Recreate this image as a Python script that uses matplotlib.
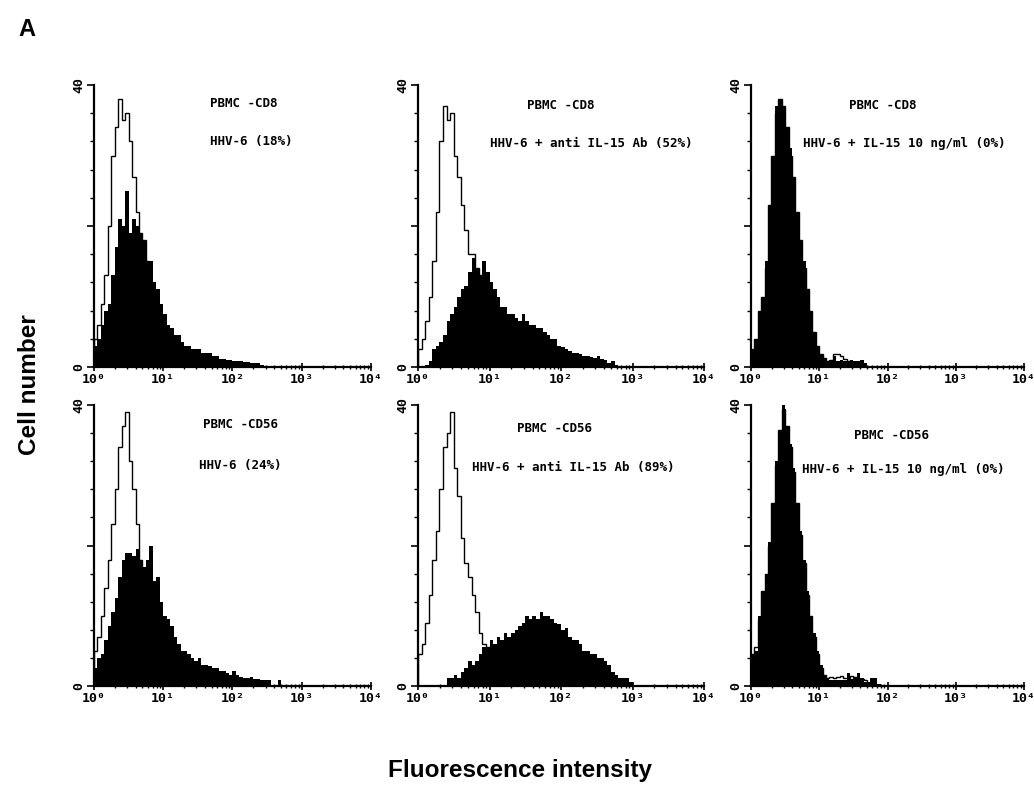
import numpy as np
import matplotlib
matplotlib.use("Agg")
import matplotlib.pyplot as plt
from matplotlib.ticker import FixedLocator, LogLocator, NullFormatter

# Canais em escala log: 20 por década, de 10^0 a 10^4
CANAIS_POR_DECADA = 20
bordas = np.logspace(0, 4, 4 * CANAIS_POR_DECADA + 1)

# Contagens por canal. Controle = contorno aberto, amostra = preenchido.
# Os canais que faltam no fim de cada lista são vazios (zero).
cd8_hhv6_controle = [4, 6, 9, 13, 20, 30, 34, 38, 35, 36, 32, 27, 22, 19, 18, 15]
cd8_hhv6_amostra = [3, 4, 6, 8, 9, 13, 17, 21, 20, 25, 19, 21, 20, 19, 18, 15, 15, 12, 11, 9,
                    7.5, 6, 5.5, 4.5, 4.5, 3.5, 3, 3, 2.5, 2.5, 2.5, 2, 2, 2, 1.5, 1.5, 1.2, 1.2,
                    1, 1, 0.8, 0.8, 0.8, 0.7, 0.7, 0.6, 0.6, 0.5, 0.3]

cd8_anti_controle = [2.5, 4, 6.5, 10, 15, 22, 32, 37, 35, 36, 30, 27, 23, 19.5, 16, 16, 14, 13]
cd8_anti_amostra = [0, 0, 0.3, 0.8, 2.5, 3, 3.5, 4.5, 6.5, 7.5, 8.5, 10, 11, 11.5, 13.5, 15.5,
                    14, 13, 15, 13.5, 12, 11, 10, 8.5, 8.5, 7.5, 7.5, 7, 6.5, 7.5, 6.5, 6, 6,
                    5.5, 5.5, 5, 4.5, 4, 4, 3, 2.8, 2.5, 2.2, 2, 2, 1.8, 1.6, 1.5, 1.4, 1.3,
                    1.5, 1.2, 1, 0.6, 0.8, 0.3]

cd8_il15_controle = [2.5, 4, 8, 10, 14, 23, 30, 36, 38, 37, 34, 30, 27, 22, 18, 14, 11, 8, 5, 3,
                     1.8, 1.3, 0.8, 1, 1.8, 1.8, 1.6, 1.2, 0.8, 0.6, 0.4]
cd8_il15_amostra = [2.5, 4, 8, 10, 15, 23, 30, 37, 38, 37, 34, 31, 27, 22, 18, 15, 11, 8, 5, 3,
                    1.8, 1.3, 0.8, 0.8, 1.5, 0.8, 1, 0.8, 0.8, 1, 0.8, 0.8, 1, 0.5]

cd56_hhv6_controle = [5, 7, 10, 14, 18, 23, 28, 34, 37, 39, 32, 28, 23, 18]
cd56_hhv6_amostra = [2.5, 4, 4.5, 6.5, 8.5, 10.5, 12.5, 15.5, 18, 19, 19, 18.5, 19.5, 18, 17,
                     18, 20, 15, 15.5, 12, 10, 9.5, 8.5, 7, 6, 5, 5, 4.5, 4, 3.5, 4, 3, 3, 2.8,
                     2.5, 2.5, 2.2, 2.2, 1.8, 1.6, 2.2, 1.6, 1.3, 1.2, 1.1, 1.3, 1, 1, 0.9, 0.9,
                     0.8, 0.2, 0.1, 0.8]

cd56_anti_controle = [4.5, 6, 9, 13, 18, 22, 28, 34, 36, 39, 31, 27, 21, 17.5, 15.5, 13, 10.5,
                      7.5, 6, 5.5]
cd56_anti_amostra = [0, 0, 0, 0, 0, 0, 0, 0, 1.2, 1.2, 1.5, 1.2, 2, 2.5, 3.5, 3, 3.5, 4.5, 5.5,
                     5.5, 6.5, 6, 7, 6.5, 7.5, 7, 7.5, 8, 8.5, 9, 10, 9.5, 10, 9.5, 10.5, 10, 10,
                     9.5, 9, 8.8, 8, 8.2, 7, 6.5, 6.5, 6, 5, 5, 4.5, 4.5, 4, 4, 3.5, 3, 2, 1.5,
                     1.2, 1.2, 1.2, 0.6]

cd56_il15_controle = [4.5, 5.5, 9.5, 13.5, 16, 20, 26, 31.5, 36.5, 39.5, 37, 34, 30.5, 26, 21.5,
                      17.5, 13, 10, 7, 4.5, 2.5, 1.6, 1.2, 1.3, 1.2, 1.3, 1.4, 1.2, 1.2, 1.4,
                      1.3, 1.2, 1, 0.8, 0.4]
cd56_il15_amostra = [4.5, 5, 10, 13.5, 16, 20.5, 26, 32, 36.5, 40, 37, 34.5, 31, 26, 22, 18,
                     13.5, 10, 7.5, 5, 3, 1.5, 1, 0.8, 0.8, 0.8, 0.8, 0.8, 1.8, 1, 1.2, 1.8,
                     1.2, 0.5, 0.6, 1.2, 1.2, 0.3]

titulos = ["PBMC -CD8", "PBMC -CD56"]
condicoes_cd8 = ["HHV-6 (18%)", "HHV-6 + anti IL-15 Ab (52%)", "HHV-6 + IL-15 10 ng/ml (0%)"]
condicoes_cd56 = ["HHV-6 (24%)", "HHV-6 + anti IL-15 Ab (89%)", "HHV-6 + IL-15 10 ng/ml (0%)"]
rotulos_x = ["10\u2070", "10\u00b9", "10\u00b2", "10\u00b3", "10\u2074"]

FONTE_MONO = "DejaVu Sans Mono"
L, A = 1034, 798


def eixo_em_pixels(fig, x0, y0, x1, y1):
    """Cria um eixo a partir de coordenadas em pixels (origem no topo)"""
    return fig.add_axes([x0 / L, 1 - y1 / A, (x1 - x0) / L, (y1 - y0) / A])


def desenhar_painel(ax, controle, amostra, titulo, condicao, pos_titulo, pos_cond):
    cheio = np.pad(np.array(amostra, float), (0, len(bordas) - 1 - len(amostra)))
    ax.stairs(cheio, bordas, fill=True, color="black", linewidth=0)
    ax.stairs(controle, bordas[:len(controle) + 1], baseline=0, color="black", linewidth=1.0)

    ax.set_xscale("log")
    ax.set_xlim(1, 1e4)
    ax.set_ylim(0, 40)

    # Só eixos esquerdo e inferior
    for lado in ["top", "right"]:
        ax.spines[lado].set_visible(False)
    for lado in ["left", "bottom"]:
        ax.spines[lado].set_linewidth(1.6)

    ax.xaxis.set_major_locator(FixedLocator([1, 10, 100, 1000, 10000]))
    ax.set_xticklabels(rotulos_x)
    ax.xaxis.set_minor_locator(LogLocator(base=10, subs=np.arange(2, 10)))
    ax.xaxis.set_minor_formatter(NullFormatter())
    ax.tick_params(axis="x", which="major", direction="inout", length=6, width=1.2, pad=1)
    ax.tick_params(axis="x", which="minor", direction="inout", length=3, width=1)

    ax.yaxis.set_major_locator(FixedLocator([0, 20, 40]))
    ax.set_yticklabels(["0", "", "40"])
    ax.yaxis.set_minor_locator(FixedLocator(np.arange(0, 41, 4)))
    ax.tick_params(axis="y", which="major", direction="out", length=5, width=1.2,
                   labelrotation=90, pad=1)
    ax.tick_params(axis="y", which="minor", direction="out", length=3, width=1)

    for rot in ax.get_xticklabels() + ax.get_yticklabels():
        rot.set_fontfamily(FONTE_MONO)
        rot.set_fontweight("bold")
        rot.set_fontsize(9.5)
    for rot in ax.get_yticklabels():
        rot.set_verticalalignment("center")

    ax.text(pos_titulo[0], pos_titulo[1], titulo, transform=ax.transAxes, family=FONTE_MONO,
            fontsize=9, fontweight="bold", ha="left", va="center")
    ax.text(pos_cond[0], pos_cond[1], condicao, transform=ax.transAxes, family=FONTE_MONO,
            fontsize=9, fontweight="bold", ha="left", va="center")


fig = plt.figure(figsize=(L / 100, A / 100), dpi=100)

colunas = [(94, 371), (418, 704), (751, 1024)]
linhas = [(85, 367), (405, 686)]

dados = [
    [(cd8_hhv6_controle, cd8_hhv6_amostra), (cd8_anti_controle, cd8_anti_amostra),
     (cd8_il15_controle, cd8_il15_amostra)],
    [(cd56_hhv6_controle, cd56_hhv6_amostra), (cd56_anti_controle, cd56_anti_amostra),
     (cd56_il15_controle, cd56_il15_amostra)],
]
condicoes = [condicoes_cd8, condicoes_cd56]

# posições dos textos em fração do eixo
pos_titulos = [[(0.42, 0.933), (0.381, 0.926), (0.358, 0.926)],
               [(0.394, 0.929), (0.346, 0.918), (0.376, 0.893)]]
pos_conds = [[(0.42, 0.80), (0.252, 0.794), (0.192, 0.794)],
             [(0.38, 0.786), (0.189, 0.776), (0.188, 0.769)]]

for i, (y0, y1) in enumerate(linhas):
    for j, (x0, x1) in enumerate(colunas):
        ax = eixo_em_pixels(fig, x0, y0, x1, y1)
        controle, amostra = dados[i][j]
        desenhar_painel(ax, controle, amostra, titulos[i], condicoes[i][j],
                        pos_titulos[i][j], pos_conds[i][j])

fig.text(27 / L, 1 - 30 / A, "A", family="Liberation Sans", fontweight="bold",
         fontsize=17, ha="center", va="center")
fig.text(30 / L, 1 - 385 / A, "Cell number", family="Liberation Sans", fontweight="bold",
         fontsize=17.5, rotation=90, ha="center", va="center")
fig.text(520 / L, 1 - 771 / A, "Fluorescence intensity", family="Liberation Sans",
         fontweight="bold", fontsize=17.5, ha="center", va="center")

fig.savefig("out.png", dpi=100)
